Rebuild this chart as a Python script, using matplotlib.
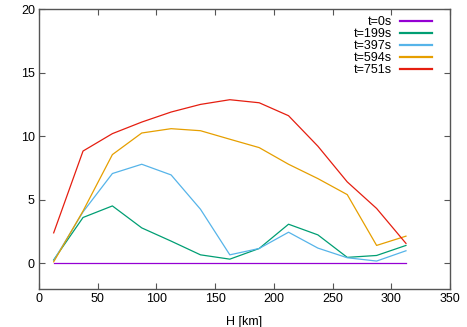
import matplotlib
matplotlib.use("Agg")
import matplotlib.pyplot as plt

plt.rcParams['font.family'] = ['Liberation Sans', 'DejaVu Sans']

H = [12.5, 37.5, 62.5, 87.5, 112.5, 137.5, 162.5, 187.5, 212.5, 237.5, 262.5, 287.5, 312.5]
labels = ["t=0s", "t=199s", "t=397s", "t=594s", "t=751s"]
t0 = [0, 0, 0, 0, 0, 0, 0, 0, 0, 0, 0, 0, 0]
t199 = [0.25, 3.59, 4.5, 2.77, 1.73, 0.65, 0.31, 1.15, 3.06, 2.22, 0.45, 0.6, 1.39]
t397 = [0.2, 4.03, 7.05, 7.78, 6.94, 4.24, 0.65, 1.15, 2.43, 1.18, 0.42, 0.16, 0.97]
t594 = [0.1, 4.1, 8.54, 10.24, 10.58, 10.42, 9.75, 9.09, 7.78, 6.65, 5.39, 1.39, 2.12]
t751 = [2.38, 8.82, 10.19, 11.1, 11.89, 12.49, 12.86, 12.62, 11.6, 9.2, 6.39, 4.3, 1.55]
series = [t0, t199, t397, t594, t751]
colors = ["#9400d3", "#009e73", "#56b4e9", "#e69f00", "#e51e10"]

W, Hpx = 467, 327
fig = plt.figure(figsize=(W / 100, Hpx / 100), dpi=100)
ax = fig.add_axes([39 / W, (Hpx - 288.5) / Hpx, (450 - 39) / W, (288.5 - 9) / Hpx])

for y, c, lab in zip(series, colors, labels):
    ax.plot(H, y, color=c, lw=0.9, label=lab)

ax.set_xlim(0, 350)
ax.set_ylim(-2, 20)
ax.set_xticks(range(0, 351, 50))
ax.set_yticks([0, 5, 10, 15, 20])
ax.tick_params(direction='in', top=True, right=True, labelsize=9, length=4,
               color='#555555', width=0.8, pad=3)
for s in ax.spines.values():
    s.set_color('#555555')
    s.set_linewidth(1)
ax.set_xlabel("H [km]", fontsize=9, labelpad=8)

leg = ax.legend(loc='upper right', bbox_to_anchor=(0.977, 1.006), frameon=False,
                markerfirst=False, fontsize=9, handlelength=2.56, labelspacing=0.0,
                handletextpad=0.64, borderpad=0.2)
for h in leg.get_lines():
    h.set_linewidth(1.6)

fig.savefig("out.png", dpi=100)
